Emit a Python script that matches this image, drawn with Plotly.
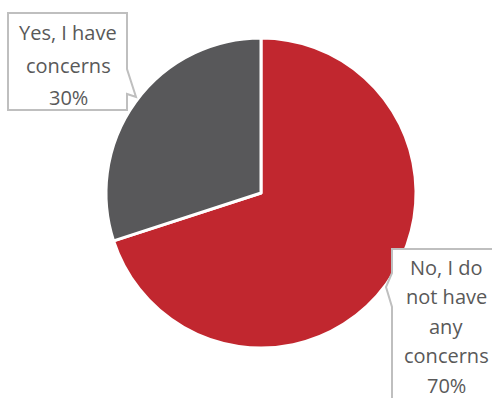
import plotly.graph_objects as go

# Survey answers (share of respondents, %)
labels = ["No, I do not have any concerns", "Yes, I have concerns"]
values = [70, 30]
colors = ["#C1272F", "#58585A"]

# Wrapped label lines for each callout
label_lines = [["No, I do", "not have", "any", "concerns"], ["Yes, I have", "concerns"]]

W, H = 492, 398


def px(x):
    return x / W


def py(y):
    return 1 - y / H


# Pie centred at (261, 193) px with radius 155 px
cx, cy, r = 261, 193, 155

fig = go.Figure(
    go.Pie(
        labels=labels,
        values=values,
        sort=False,
        direction="clockwise",
        rotation=0,
        marker=dict(colors=colors, line=dict(color="white", width=3)),
        textinfo="none",
        hoverinfo="label+percent",
        domain=dict(x=[px(cx - r), px(cx + r)], y=[py(cy + r), py(cy - r)]),
    )
)


def path_from(points):
    s = "M " + " L ".join(f"{px(x):.5f},{py(y):.5f}" for x, y in points) + " Z"
    return s


# Callout outlines (box with pointer toward its slice)
callout_yes = [(8, 13), (127, 13), (127, 69), (136, 97), (127, 94), (127, 110), (8, 110)]
callout_no = [(392, 249), (505, 249), (505, 410), (392, 410), (392, 307), (386, 287), (392, 273)]

shapes = []
for pts in (callout_yes, callout_no):
    shapes.append(
        dict(
            type="path",
            xref="paper",
            yref="paper",
            path=path_from(pts),
            line=dict(color="#BFBFBF", width=2),
            fillcolor="white",
            layer="above",
        )
    )

text_color = "#595959"
font = dict(family="Open Sans", size=20, color=text_color)

annotations = []


def add_lines(lines, x, y0, step):
    for i, t in enumerate(lines):
        annotations.append(
            dict(
                text=t,
                x=px(x),
                y=py(y0 + i * step),
                xref="paper",
                yref="paper",
                showarrow=False,
                xanchor="center",
                yanchor="middle",
                font=font,
            )
        )


yes_text = label_lines[1] + [f"{values[1]}%"]
no_text = label_lines[0] + [f"{values[0]}%"]
add_lines(yes_text, 68, 33, 32)
add_lines(no_text, 446, 267, 29.5)

fig.update_layout(
    width=W,
    height=H,
    margin=dict(l=0, r=0, t=0, b=0),
    showlegend=False,
    paper_bgcolor="white",
    plot_bgcolor="white",
    shapes=shapes,
    annotations=annotations,
)

fig.write_html("out.html")
